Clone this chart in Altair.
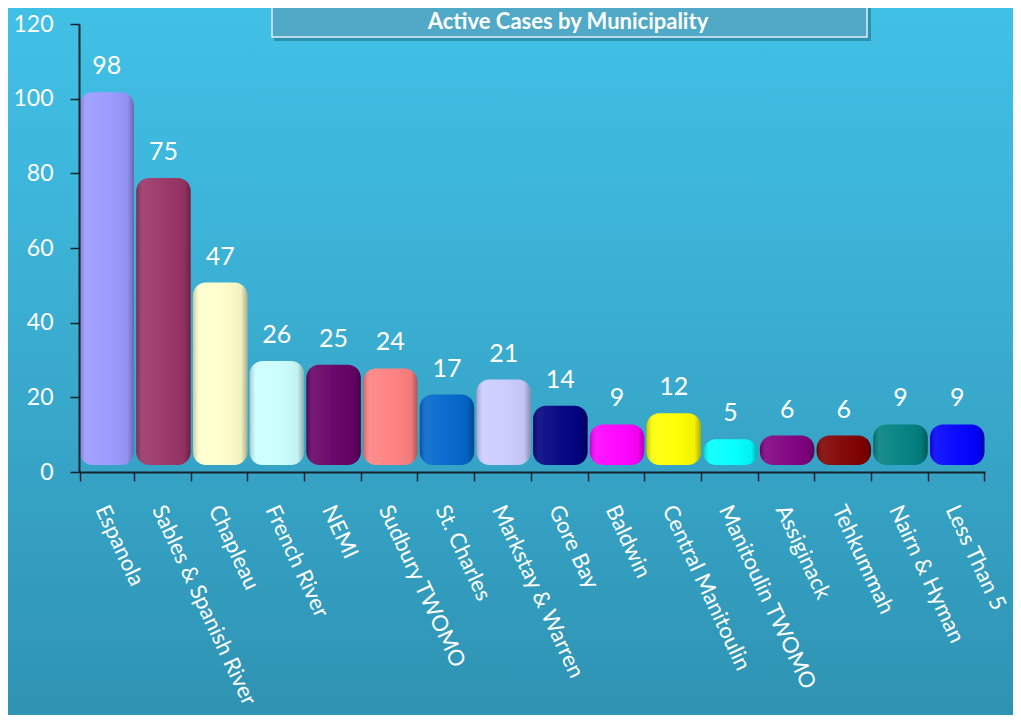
import altair as alt
import pandas as pd

municipalities = ["Espanola", "Sables & Spanish River", "Chapleau", "French River", "NEMI",
                  "Sudbury TWOMO", "St. Charles", "Markstay & Warren", "Gore Bay", "Baldwin",
                  "Central Manitoulin", "Manitoulin TWOMO", "Assiginack", "Tehkummah",
                  "Nairn & Hyman", "Less Than 5"]
active_cases = [98, 75, 47, 26, 25, 24, 17, 21, 14, 9, 12, 5, 6, 6, 9, 9]
bar_colors = ["#9999ff", "#993366", "#ffffcc", "#ccffff", "#660066", "#ff8080", "#0066cc",
              "#ccccff", "#000080", "#ff00ff", "#ffff00", "#00ffff", "#800080", "#800000",
              "#008080", "#0000ff"]
y_ticks = [0, 20, 40, 60, 80, 100, 120]
title_text = "Active Cases by Municipality"

W, H = 906, 448
PAD_L, PAD_T, PAD_R, PAD_B = 71, 16, 28, 243
FONT = "Lato"
AXIS_DARK = "#14242c"

df = pd.DataFrame({"Municipality": municipalities, "Active": active_cases, "Color": bar_colors})

x_enc = alt.X(
    "Municipality:N", sort=municipalities,
    scale=alt.Scale(paddingInner=0.04, paddingOuter=0.01),
    axis=alt.Axis(title=None, labelAngle=65, labelAlign="left", labelBaseline="middle",
                  labelColor="white", labelFont=FONT, labelFontSize=22, labelPadding=25,
                  labelOffset=-6, labelLimit=500, tickBand="extent", tickSize=9,
                  tickWidth=1.5, tickColor=AXIS_DARK, domainColor=AXIS_DARK, domainWidth=2,
                  grid=False, zindex=1),
)
y_enc = alt.Y(
    "Active:Q", scale=alt.Scale(domain=[0, 120], nice=False), stack=None,
    axis=alt.Axis(title=None, values=y_ticks, labelColor="white", labelFont=FONT,
                  labelFontSize=23, labelPadding=17, tickSize=9, tickWidth=1.5,
                  tickColor=AXIS_DARK, domainColor=AXIS_DARK, domainWidth=2, grid=False,
                  zindex=1),
)

one = alt.Data(values=[{"t": title_text}])

bg = alt.Chart(one).mark_rect(
    color=alt.Gradient(gradient="linear", x1=0, x2=0, y1=0, y2=1,
                       stops=[alt.GradientStop(offset=0, color="#41c0e6"),
                              alt.GradientStop(offset=0.3, color="#3db4d9"),
                              alt.GradientStop(offset=1, color="#2f93b3")])
).encode(x=alt.value(-PAD_L), x2=alt.value(W + PAD_R), y=alt.value(-PAD_T), y2=alt.value(H + PAD_B))

shadow = alt.Chart(one).mark_rect(color="#1d6e88", opacity=0.55).encode(
    x=alt.value(195), x2=alt.value(792), y=alt.value(-18), y2=alt.value(17))
box = alt.Chart(one).mark_rect(color="#50a9c6", stroke="#dff0f5", strokeWidth=1.5).encode(
    x=alt.value(193), x2=alt.value(788), y=alt.value(-20), y2=alt.value(13))
title = alt.Chart(one).mark_text(font=FONT, fontSize=22, fontWeight="bold", color="white",
                                 align="center", baseline="middle").encode(
    x=alt.value(489), y=alt.value(-2), text="t:N")

bars = alt.Chart(df).mark_bar(cornerRadius=13, yOffset=-14, y2Offset=-7).encode(
    x=x_enc, y=y_enc, y2=alt.datum(0), color=alt.Color("Color:N", scale=None))

shade = alt.Chart(df).mark_bar(
    cornerRadius=13, yOffset=-14, y2Offset=-7,
    color=alt.Gradient(gradient="linear", x1=0, x2=1, y1=0, y2=0,
                       stops=[alt.GradientStop(offset=0, color="rgba(0,0,0,0.22)"),
                              alt.GradientStop(offset=0.12, color="rgba(255,255,255,0.10)"),
                              alt.GradientStop(offset=0.5, color="rgba(255,255,255,0.04)"),
                              alt.GradientStop(offset=0.88, color="rgba(0,0,0,0.05)"),
                              alt.GradientStop(offset=1, color="rgba(0,0,0,0.32)")])
).encode(x=alt.X("Municipality:N", sort=municipalities), y=alt.Y("Active:Q", stack=None),
         y2=alt.datum(0))

labels = alt.Chart(df).mark_text(font=FONT, fontSize=25, color="white", baseline="middle",
                                 dy=-40).encode(
    x=alt.X("Municipality:N", sort=municipalities), y=alt.Y("Active:Q"), text="Active:Q")

chart = alt.layer(bg, shadow, box, title, bars, shade, labels).properties(
    width=W, height=H,
    padding={"left": PAD_L, "top": PAD_T, "right": PAD_R, "bottom": PAD_B},
    autosize=alt.AutoSizeParams(type="none"),
    background="#38a9cf",
).configure_view(strokeWidth=0)

chart.save("out.html", embed_options={"renderer": "svg", "actions": False})
